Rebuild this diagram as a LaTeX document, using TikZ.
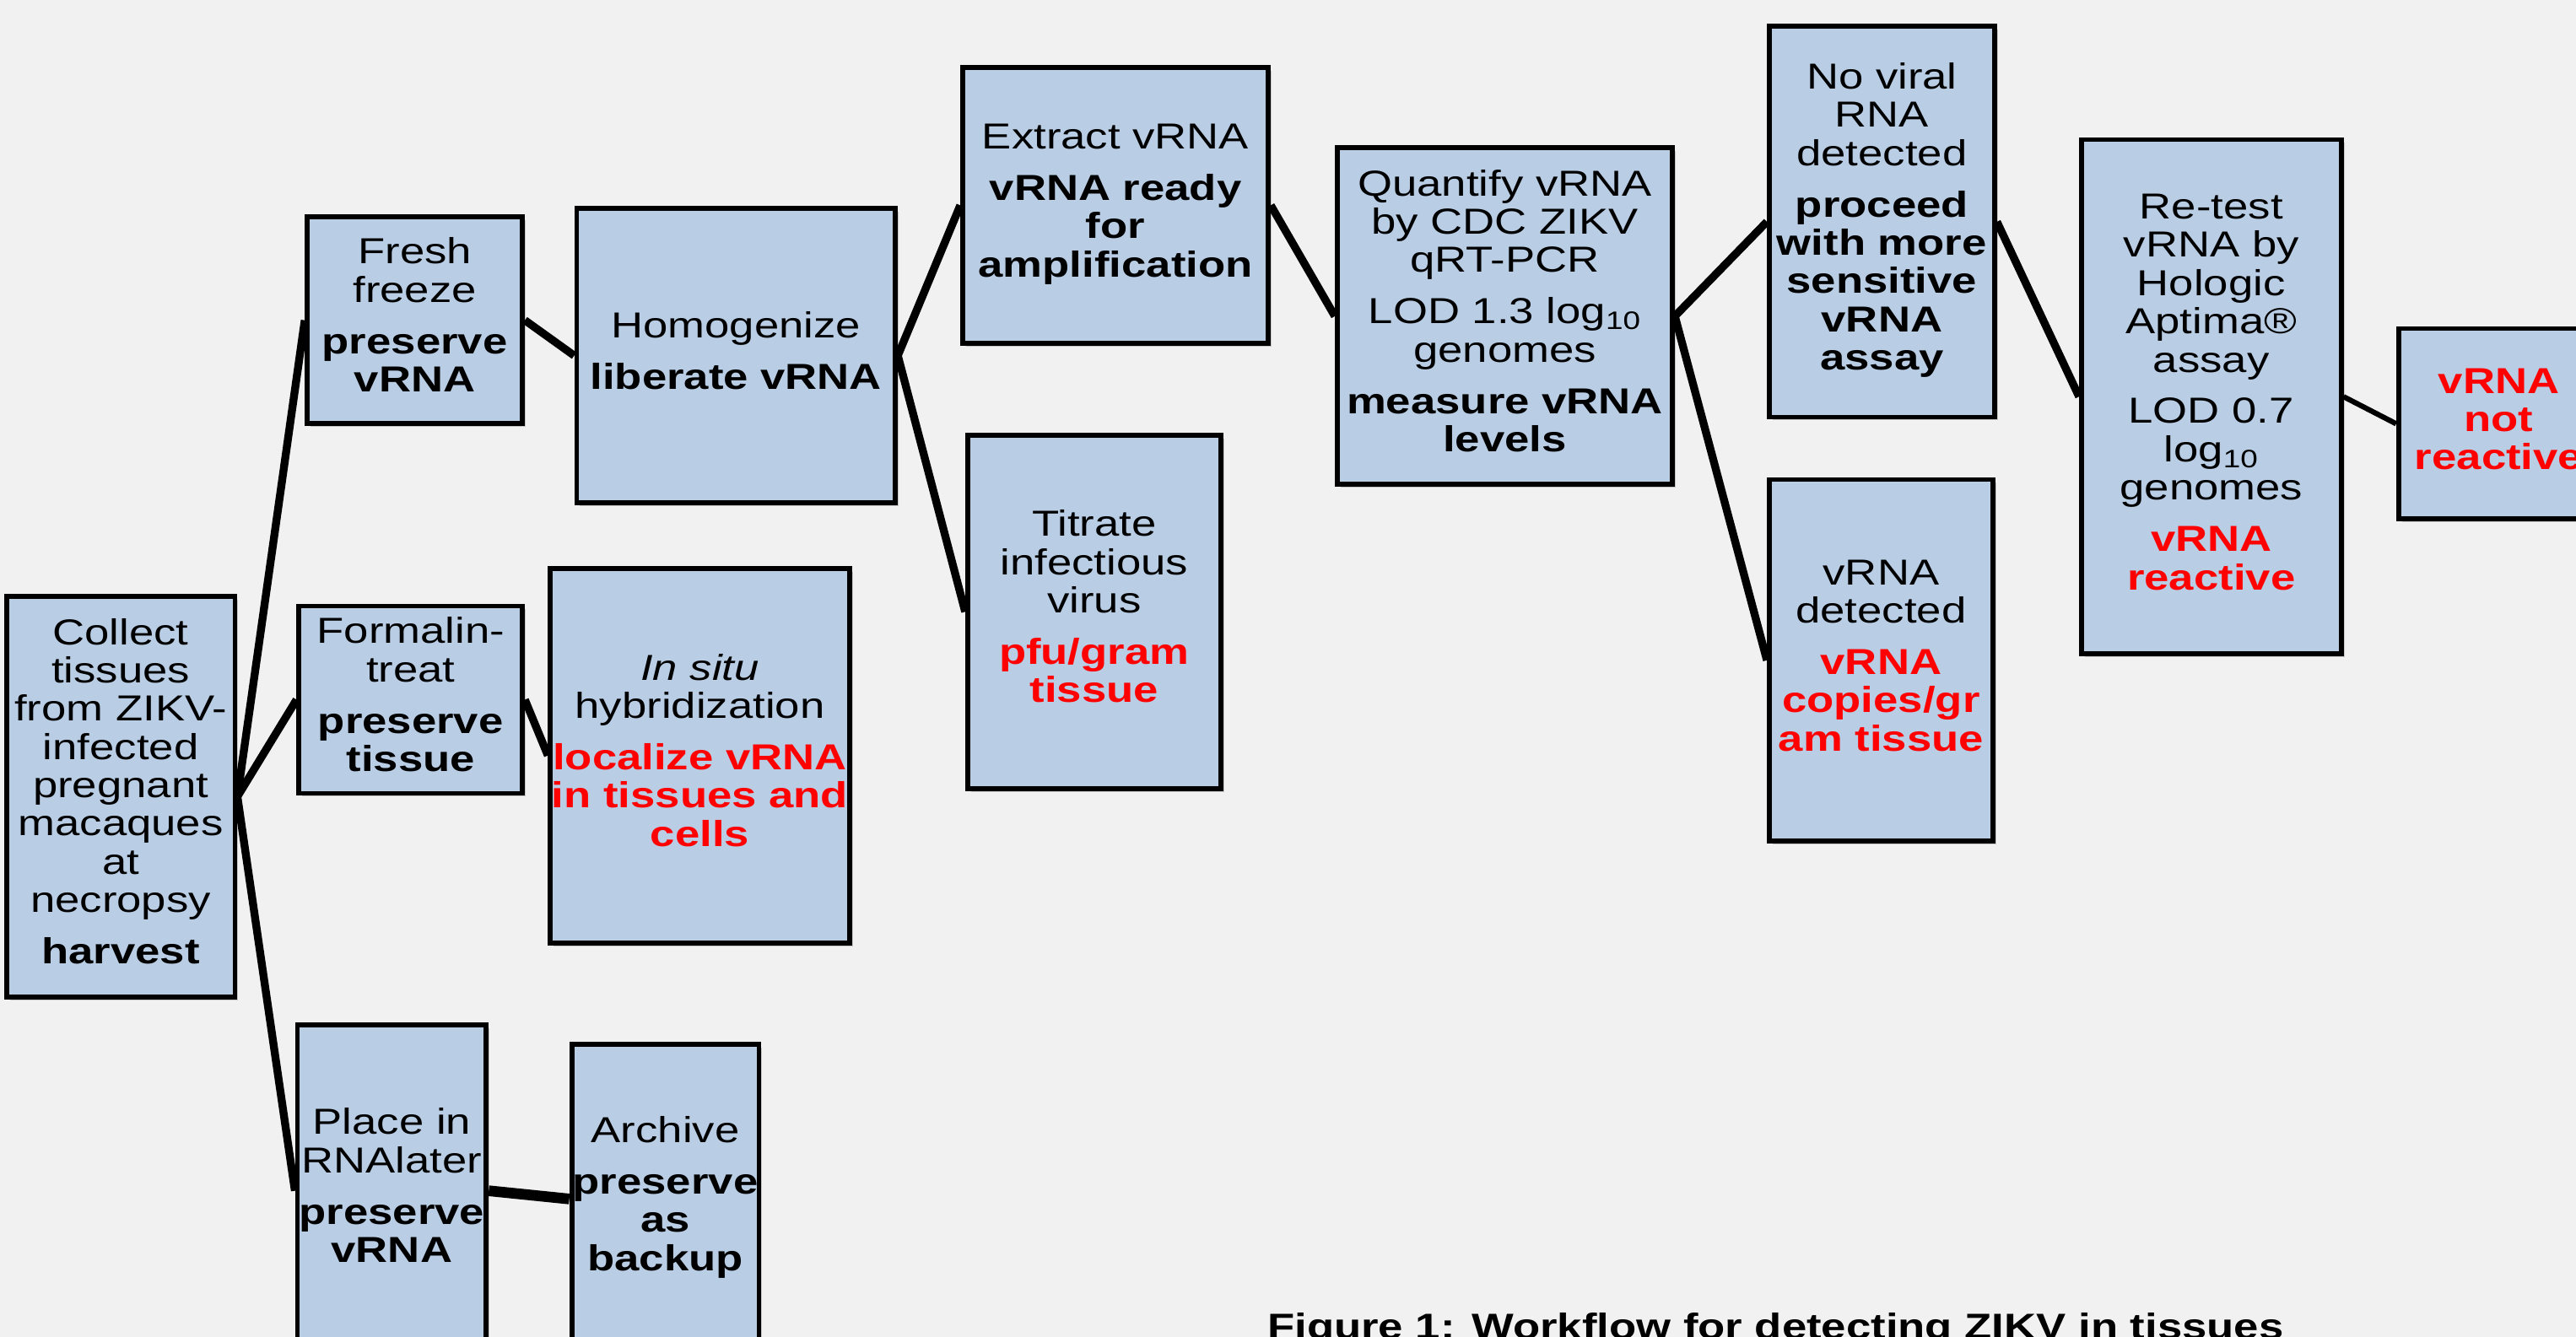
\documentclass[tikz,border=0pt]{standalone}
\usepackage{fontspec}
\setmainfont{Liberation Sans}[FakeStretch=1.23]
\usetikzlibrary{shadows}
\definecolor{bgc}{HTML}{F1F1F1}
\definecolor{boxfill}{HTML}{B9CDE5}
\definecolor{redtxt}{HTML}{FF0000}
\newcommand\bt[1]{\raisebox{-1.5pt}{\makebox[0pt]{\begin{tabular}{@{}c@{}}#1\end{tabular}}}}
\newcommand\rb[1]{{\color{redtxt}\bfseries #1}}
\newcommand\bb[1]{{\bfseries #1}}
\newcommand\gp{\\[8pt]}
\begin{document}
\begin{tikzpicture}[x=1pt,y=-1pt,
  every node/.style={font=\fontsize{22}{23.3}\selectfont},
  box/.style={draw=black, line width=3pt, fill=boxfill, rectangle, inner sep=0pt,
    drop shadow={shadow xshift=2pt, shadow yshift=-2pt, opacity=.3, fill=black!60}},
  link/.style={line width=4.8pt}]
\fill[bgc] (0,0) rectangle (1568,814);
\useasboundingbox (0,0) rectangle (1568,814);

\node[box, minimum width=139pt, minimum height=244pt] (collect) at (73.5,485)
 {\bt{Collect\\tissues\\from ZIKV-\\infected\\pregnant\\macaques\\at\\necropsy\gp\bb{harvest}}};
\node[box, minimum width=131pt, minimum height=126pt] (fresh) at (252.5,195)
 {\bt{Fresh\\freeze\gp\bb{preserve}\\\bb{vRNA}}};
\node[box, minimum width=136pt, minimum height=114pt] (formalin) at (250,426)
 {\bt{Formalin-\\treat\gp\bb{preserve}\\\bb{tissue}}};
\node[box, minimum width=115pt, minimum height=202pt] (place) at (238.5,725)
 {\bt{Place in\\RNAlater\gp\bb{preserve}\\\bb{vRNA}}};
\node[box, minimum width=194pt, minimum height=179pt] (homog) at (448,216.5)
 {\bt{Homogenize\gp\bb{liberate vRNA}}};
\node[box, minimum width=182pt, minimum height=228pt] (insitu) at (426,460)
 {\bt{\itshape In situ\\hybridization\gp\rb{localize vRNA}\\\rb{in tissues and}\\\rb{cells}}};
\node[box, minimum width=114pt, minimum height=188pt] (archive) at (405,730)
 {\bt{Archive\gp\bb{preserve}\\\bb{as}\\\bb{backup}}};
\node[box, minimum width=186pt, minimum height=168pt] (extract) at (679,125)
 {\bt{Extract vRNA\gp\bb{vRNA ready}\\\bb{for}\\\bb{amplification}}};
\node[box, minimum width=154pt, minimum height=215pt] (titrate) at (666,372.5)
 {\bt{Titrate\\infectious\\virus\gp\rb{pfu/gram}\\\rb{tissue}}};
\node[box, minimum width=204pt, minimum height=205pt] (quant) at (916,192.5)
 {\bt{Quantify vRNA\\by CDC ZIKV\\qRT-PCR\gp LOD 1.3 log\textsubscript{10}\\genomes\gp\bb{measure vRNA}\\\bb{levels}}};
\node[box, minimum width=137pt, minimum height=238pt] (noviral) at (1145.5,135)
 {\bt{No viral\\RNA\\detected\gp\bb{proceed}\\\bb{with more}\\\bb{sensitive}\\\bb{vRNA}\\\bb{assay}}};
\node[box, minimum width=136pt, minimum height=220pt] (detected) at (1145,402)
 {\bt{vRNA\\detected\gp\rb{vRNA}\\\rb{copies/gr}\\\rb{am tissue}}};
\node[box, minimum width=158pt, minimum height=313pt] (retest) at (1346,241.5)
 {\bt{Re-test\\vRNA by\\Hologic\\Aptima®\\assay\gp LOD 0.7\\log\textsubscript{10}\\genomes\gp\rb{vRNA}\\\rb{reactive}}};
\node[box, minimum width=122pt, minimum height=116pt] (notreact) at (1521,258)
 {\bt{\rb{vRNA}\\\rb{not}\\\rb{reactive}}};

\draw[link] (collect.east) -- (fresh.west);
\draw[link] (collect.east) -- (formalin.west);
\draw[link] (collect.east) -- (place.west);
\draw[link] (fresh.east) -- (homog.west);
\draw[link] (formalin.east) -- (insitu.west);
\draw[link, line width=6.5pt] (place.east) -- (archive.west);
\draw[link] (homog.east) -- (extract.west);
\draw[link] (homog.east) -- (titrate.west);
\draw[link] (extract.east) -- (quant.west);
\draw[link] (quant.east) -- (noviral.west);
\draw[link] (quant.east) -- (detected.west);
\draw[link] (noviral.east) -- (retest.west);
\draw[link, line width=3.2pt] (retest.east) -- (notreact.west);

\node[anchor=base west, font=\fontsize{22}{23}\selectfont\bfseries] (caption) at (768,815.5)
 {Figure 1: Workflow for detecting ZIKV in tissues};
\end{tikzpicture}
\end{document}
